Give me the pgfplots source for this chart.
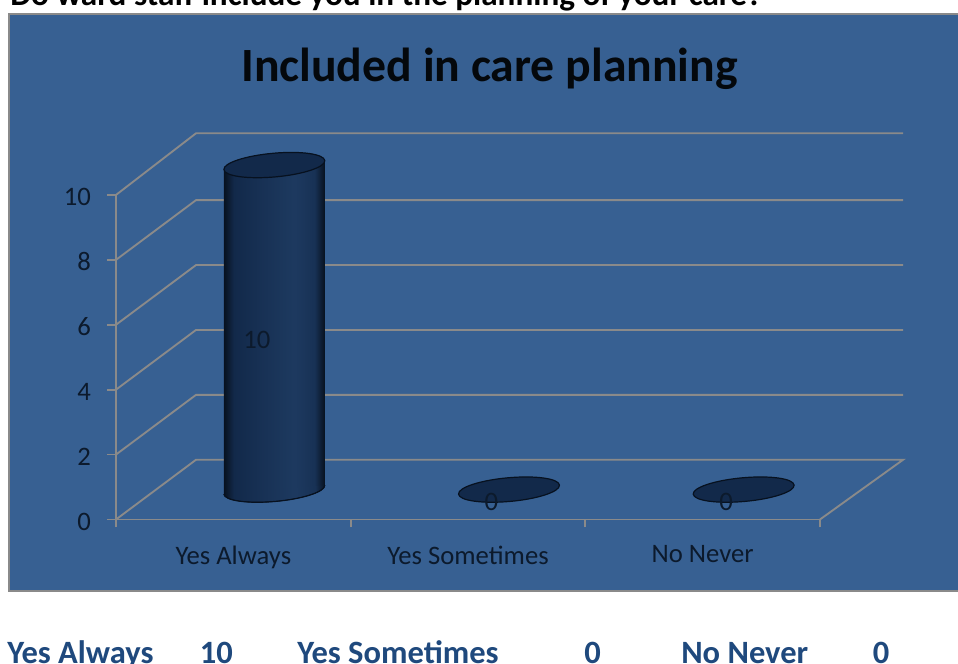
\documentclass[border=0pt]{standalone}
\usepackage{pgfplots}
\usepackage{pgfplotstable}
\usepackage{fontspec}
\setmainfont{Carlito}
\pgfplotsset{compat=1.18}

\definecolor{panel}{HTML}{376092}
\definecolor{frameline}{HTML}{8A8A8A}
\definecolor{capfill}{HTML}{12294A}
\definecolor{edgeink}{HTML}{07111F}
\definecolor{inktext}{HTML}{0C1A2C}
\definecolor{headblue}{HTML}{1F497D}

% Horizontal gradient of the cylinder wall
\pgfdeclarehorizontalshading{cylwall}{100bp}{
  color(0bp)=(edgeink);
  color(25bp)=(edgeink);
  color(30bp)=(capfill);
  color(44bp)=(capfill!85!panel);
  color(60bp)=(capfill!70!panel);
  color(70bp)=(capfill!85!panel);
  color(75bp)=(edgeink);
  color(100bp)=(edgeink)}

% Tilted cap of a cylinder, set back into the floor by the chart depth
\pgfdeclareplotmark{cylcap}{%
  \pgftransformshift{\pgfqpoint{30.75pt}{22.4pt}}%
  \pgftransformrotate{5.1}%
  \pgfsetfillcolor{capfill}\pgfsetstrokecolor{edgeink}\pgfsetlinewidth{0.9pt}%
  \pgfpathellipse{\pgfpointorigin}{\pgfqpoint{38pt}{0pt}}{\pgfqpoint{0pt}{8.9pt}}%
  \pgfusepathqfillstroke}
% Lower half of the base, the only part of it that shows below the wall
\pgfdeclareplotmark{cylbase}{%
  \pgftransformshift{\pgfqpoint{30.75pt}{22.4pt}}%
  \pgftransformrotate{5.1}%
  \path[shade,shading=cylwall] (-38pt,0pt) arc [start angle=180,end angle=360,x radius=38pt,y radius=8.9pt];
  \path[draw=edgeink,line width=0.9pt] (-38pt,0pt) arc [start angle=180,end angle=360,x radius=38pt,y radius=8.9pt];}

\pgfplotstableread{
pos value
0 10
1 0
2 0
}\carevalues

% Value label anchors: halfway up each cylinder
\pgfplotstableread{
pos mid value
0 5 10
1 0 0
2 0 0
}\carelabels

% Gridlines across the side wall and back wall
\pgfplotstableread{
gx gy
-0.5 0
-0.159 1.84
2.854 1.84
2.5 0
nan nan
-0.5 2
-0.159 3.84
2.854 3.84
nan nan
-0.5 4
-0.159 5.84
2.854 5.84
nan nan
-0.5 6
-0.159 7.84
2.854 7.84
nan nan
-0.5 8
-0.159 9.84
2.854 9.84
nan nan
-0.5 10
-0.159 11.9
2.854 11.9
}\wallgrid

\begin{document}
\begin{tikzpicture}[x=0.75pt,y=-0.75pt]
\path[use as bounding box] (0,0) rectangle (958,664);
\clip (0,0) rectangle (958,664);
\fill[white] (0,0) rectangle (958,664);

\node[anchor=base west,inner sep=0pt,font=\fontsize{24.9}{24.9}\selectfont\bfseries] at (10,5)
  {Do ward staff include you in the planning of your care?};

\path[fill=panel,draw=frameline,line width=1.8pt] (9,14) rectangle (975,591);

\node[anchor=base,inner sep=0pt,font=\fontsize{35.8}{35.8}\selectfont\bfseries,text=black!92!panel] at (489.5,81)
  {Included in care planning};

\begin{axis}[
  at={(87pt,-389.6pt)}, anchor=south west,
  scale only axis, width=528pt, height=243.4pt,
  xmin=-0.5, xmax=2.5, ymin=0, ymax=10,
  clip=false,
  axis x line*=bottom, axis y line*=left,
  axis line style={draw=frameline,line width=1.4pt,-},
  tick align=outside,
  xtick={0,1,2},
  xticklabels={Yes Always,Yes Sometimes,No Never},
  minor xtick={-0.5,0.5,1.5,2.5},
  major x tick style={draw=none},
  minor x tick style={draw=frameline,line width=1.4pt},
  minor tick length=6pt,
  ytick={0,2,...,10},
  major y tick style={draw=frameline,line width=1.4pt},
  major tick length=6.75pt,
  /pgf/number format/assume math mode=true,
  tick label style={font=\fontsize{20}{20}\selectfont,text=inktext},
  xticklabel style={yshift=-9.5pt},
  yticklabel style={xshift=-8.5pt,yshift=-1.5pt},
]
\addplot[draw=frameline,line width=1.4pt,unbounded coords=jump,mark=none]
  table[x=gx,y=gy] {\wallgrid};
\addplot[only marks,mark=cylbase] coordinates {(0,0)};
\addplot[ybar,bar shift=0pt,bar width=75.75pt,shade,shading=cylwall,draw=none,
  restrict y to domain=0.5:100,
  yslant=0.089,xshift=30.75pt,yshift=10.9pt]
  table[x=pos,y=value] {\carevalues};
\addplot[only marks,mark=cylcap]
  table[x=pos,y=value] {\carevalues};
\addplot[draw=none,mark=none,point meta=explicit,
  nodes near coords,
  every node near coord/.style={anchor=center,xshift=17.6pt,yshift=12.8pt,
    font=\fontsize{20}{20}\selectfont,text=inktext,
    /pgf/number format/assume math mode=true}]
  table[x=pos,y=mid,meta=value] {\carelabels};
\end{axis}

\begin{scope}[every node/.style={anchor=base west,inner sep=0pt,
    font=\fontsize{24.4}{24.4}\selectfont\bfseries,text=headblue}]
\node at (7,663) {Yes Always};
\node at (199.5,663) {10};
\node at (297,663) {Yes Sometimes};
\node at (584,663) {0};
\node at (681,663) {No Never};
\node at (872.5,663) {0};
\end{scope}
\end{tikzpicture}
\end{document}
